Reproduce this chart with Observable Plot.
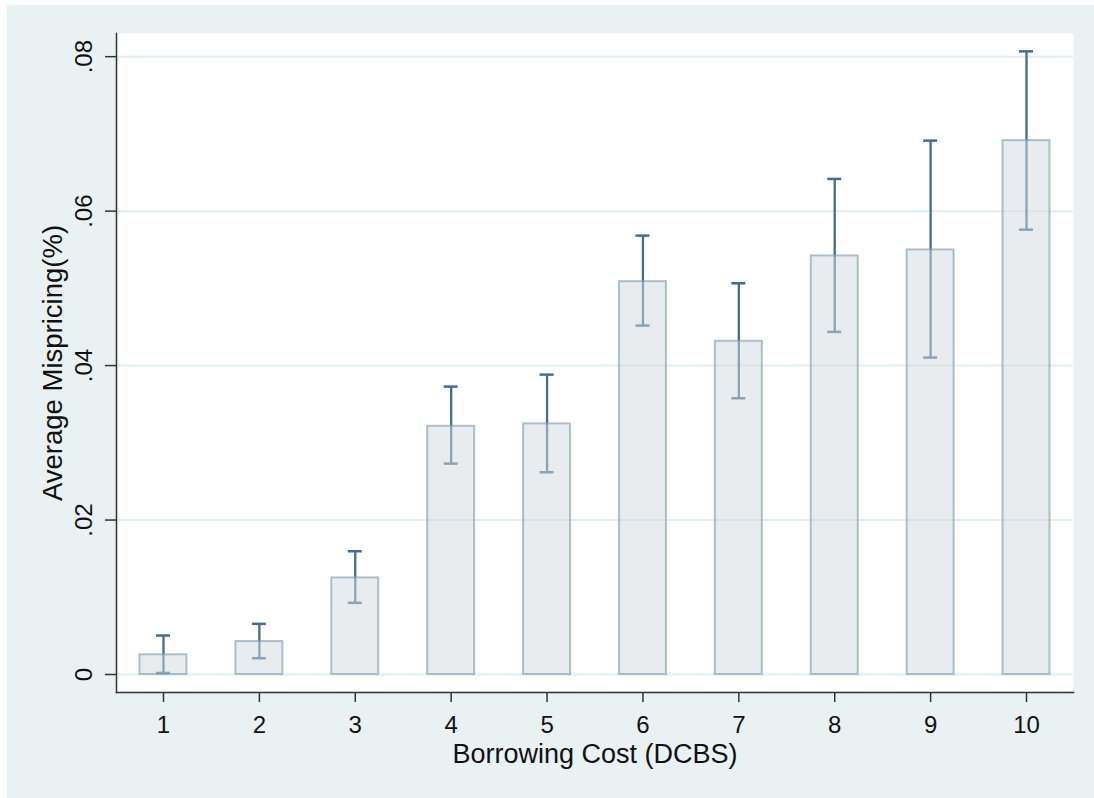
<!DOCTYPE html>
<html>
<head>
<meta charset="utf-8">
<script src="https://cdn.jsdelivr.net/npm/d3@7"></script>
<script src="https://cdn.jsdelivr.net/npm/@observablehq/plot@0.6"></script>
<style>
  html, body { margin: 0; padding: 0; background: #ffffff; }
  #wrap { position: absolute; left: 7px; top: 5px; width: 1087px; height: 793px; background: #e9f1f3; }
  #wrap svg { display: block; }
</style>
</head>
<body>
<div id="wrap"></div>
<script>
const categories = ["1", "2", "3", "4", "5", "6", "7", "8", "9", "10"];
const meanMispricing = [0.00255, 0.00427, 0.01251, 0.03214, 0.03245, 0.05087, 0.04315, 0.05420, 0.05498, 0.06913];
const ciLower = [0.00020, 0.00211, 0.00928, 0.02731, 0.02619, 0.04518, 0.03577, 0.04436, 0.04104, 0.05760];
const ciUpper = [0.00505, 0.00656, 0.01596, 0.03728, 0.03883, 0.05683, 0.05066, 0.06417, 0.06913, 0.08069];
const yTicks = [0, 0.02, 0.04, 0.06, 0.08];
const yTickLabels = ["0", ".02", ".04", ".06", ".08"];
const xLabel = "Borrowing Cost (DCBS)";
const yLabel = "Average Mispricing(%)";

const data = categories.map((k, i) => ({k, v: meanMispricing[i], lo: ciLower[i], hi: ciUpper[i]}));
const fmt = (d) => yTickLabels[yTicks.indexOf(d)];
const font = "'Liberation Sans', Arial, sans-serif";

const chart = Plot.plot({
  width: 1087,
  height: 793,
  marginLeft: 109,
  marginRight: 21,
  marginTop: 28,
  marginBottom: 106,
  style: {background: "transparent", fontFamily: font, fontSize: "25px", color: "#111"},
  x: {type: "band", domain: categories, paddingInner: 0.51, paddingOuter: 0.245, round: false, label: null},
  y: {domain: [-0.00233, 0.083], label: null},
  marks: [
    Plot.frame({fill: "white", stroke: null}),
    Plot.gridY(yTicks, {stroke: "#e3eef0", strokeOpacity: 1, strokeWidth: 2}),
    Plot.ruleX(data, {x: "k", y1: "lo", y2: "hi", stroke: "#456c8c", strokeWidth: 2.3}),
    Plot.tickY(data, {x: "k", y: "lo", stroke: "#456c8c", strokeWidth: 2.5, insetLeft: 16.5, insetRight: 16.5}),
    Plot.tickY(data, {x: "k", y: "hi", stroke: "#456c8c", strokeWidth: 2.5, insetLeft: 16.5, insetRight: 16.5}),
    Plot.barY(data, {x: "k", y: "v", fill: "rgb(209,217,223)", fillOpacity: 0.5, stroke: "#7f99ad", strokeOpacity: 0.6, strokeWidth: 2}),
    Plot.axisX({tickSize: 10, tickPadding: 13, fontSize: 24, stroke: "#333", strokeWidth: 1.5, label: null}),
    Plot.axisY({ticks: yTicks, tickFormat: fmt, tickSize: 11, tickPadding: 14, tickRotate: -90, fontSize: 24, stroke: "#333", strokeWidth: 1.5, label: null}),
    Plot.frame({anchor: "left", stroke: "#333", strokeWidth: 1.5}),
    Plot.frame({anchor: "bottom", stroke: "#333", strokeWidth: 1.5}),
    Plot.text([xLabel], {frameAnchor: "bottom", text: (d) => d, dy: 62, lineAnchor: "middle", textAnchor: "middle", fontSize: 27, fill: "#111"}),
    Plot.text([yLabel], {frameAnchor: "left", text: (d) => d, dx: -63, rotate: -90, lineAnchor: "middle", textAnchor: "middle", fontSize: 27.5, fill: "#111"})
  ]
});
document.getElementById("wrap").appendChild(chart);
</script>
</body>
</html>
